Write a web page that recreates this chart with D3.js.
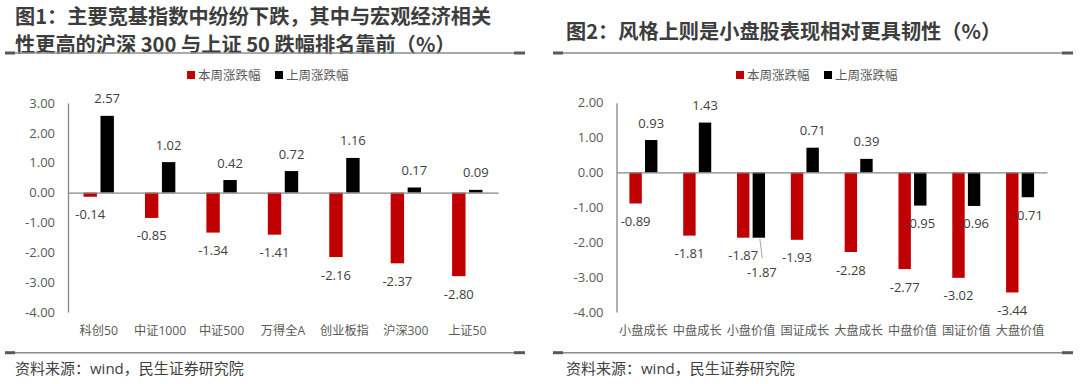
<!DOCTYPE html>
<html>
<head>
<meta charset="utf-8">
<script src="https://cdn.jsdelivr.net/npm/d3@7/dist/d3.min.js"></script>
<style>
  html, body { margin: 0; padding: 0; background: #ffffff; }
  svg { display: block; font-family: "Open Sans", "Noto Sans CJK SC", sans-serif; }
</style>
</head>
<body>
<svg id="chart" width="1080" height="384"></svg>
<script>
// ---------- data ----------
const seriesNames = ["本周涨跌幅", "上周涨跌幅"];
const seriesColors = ["#C00000", "#000000"];

const p1Title = ["图1：主要宽基指数中纷纷下跌，其中与宏观经济相关", "性更高的沪深 300 与上证 50 跌幅排名靠前（%）"];
const p1Categories = ["科创50", "中证1000", "中证500", "万得全A", "创业板指", "沪深300", "上证50"];
const p1ThisWeek = [-0.14, -0.85, -1.34, -1.41, -2.16, -2.37, -2.80];
const p1LastWeek = [2.57, 1.02, 0.42, 0.72, 1.16, 0.17, 0.09];
const p1Ticks = [3, 2, 1, 0, -1, -2, -3, -4];

const p2Title = ["图2：风格上则是小盘股表现相对更具韧性（%）"];
const p2Categories = ["小盘成长", "中盘成长", "小盘价值", "国证成长", "大盘成长", "中盘价值", "国证价值", "大盘价值"];
const p2ThisWeek = [-0.89, -1.81, -1.87, -1.93, -2.28, -2.77, -3.02, -3.44];
const p2LastWeek = [0.93, 1.43, -1.87, 0.71, 0.39, -0.95, -0.96, -0.71];
const p2Ticks = [2, 1, 0, -1, -2, -3, -4];

const sourceText = "资料来源：wind，民生证券研究院";

// ---------- drawing ----------
const svg = d3.select("#chart");

function divider(g, x1, x2, y) {
  g.append("line").attr("x1", x1).attr("x2", x2).attr("y1", y).attr("y2", y)
    .attr("stroke", "#8c8c8c").attr("stroke-width", 1.5);
  g.append("rect").attr("x", x1).attr("y", y - 1.5).attr("width", 10).attr("height", 3).attr("fill", "#595959");
  g.append("rect").attr("x", x2 - 11).attr("y", y - 1.5).attr("width", 11).attr("height", 3).attr("fill", "#595959");
}

function drawPanel(cfg) {
  const g = svg.append("g");

  // title
  cfg.title.forEach((t, i) => {
    g.append("text").attr("x", cfg.titleX).attr("y", cfg.titleY[i])
      .attr("dominant-baseline", "central")
      .attr("font-family", "'Noto Sans CJK SC', sans-serif")
      .attr("font-weight", "bold").attr("font-size", 20.2).attr("fill", "#3d3d3d")
      .text(t);
  });
  divider(g, cfg.lineX1, cfg.lineX2, 53);
  divider(g, cfg.lineX1, cfg.lineX2, 352.7);

  // source
  g.append("text").attr("x", cfg.titleX).attr("y", 368)
    .attr("dominant-baseline", "central")
    .attr("font-size", 15).attr("fill", "#404040").text(sourceText);

  // legend
  seriesNames.forEach((name, i) => {
    g.append("rect").attr("x", cfg.legendX[i]).attr("y", 71).attr("width", 8).attr("height", 8)
      .attr("fill", seriesColors[i]);
    g.append("text").attr("x", cfg.legendX[i] + 11).attr("y", 75)
      .attr("dominant-baseline", "central")
      .attr("font-size", 12.5).attr("fill", "#595959").text(name);
  });

  // scales
  const x0 = d3.scaleBand().domain(cfg.categories).range([cfg.plotX1, cfg.plotX2]).padding(0);
  const x1 = d3.scaleBand().domain([0, 1]).range([0, x0.bandwidth()])
    .paddingInner(cfg.innerPad).paddingOuter(cfg.outerPad);
  const y = d3.scaleLinear().domain([d3.min(cfg.ticks), d3.max(cfg.ticks)]).range([312, cfg.plotTop]);

  // y axis
  const yAxis = d3.axisLeft(y).tickValues(cfg.ticks).tickSize(0).tickSizeOuter(0).tickPadding(13)
    .tickFormat(d => d.toFixed(2));
  const ya = g.append("g").attr("transform", `translate(${cfg.plotX1},0)`).call(yAxis);
  ya.select(".domain").attr("stroke", "#868686").attr("stroke-width", 1.3);
  ya.selectAll("text").attr("font-size", 13).attr("fill", "#595959")
    .attr("font-family", "'Open Sans', 'Noto Sans CJK SC', sans-serif");

  // bars
  const series = [cfg.thisWeek, cfg.lastWeek];
  series.forEach((vals, s) => {
    g.append("g").selectAll("rect").data(vals).join("rect")
      .attr("x", (d, i) => x0(cfg.categories[i]) + x1(s))
      .attr("width", x1.bandwidth())
      .attr("y", d => y(Math.max(0, d)))
      .attr("height", d => Math.abs(y(d) - y(0)))
      .attr("fill", seriesColors[s]);
  });

  // x axis line at zero
  const xAxis = d3.axisBottom(x0).tickSize(0).tickSizeOuter(0).tickFormat("");
  const xa = g.append("g").attr("transform", `translate(0,${y(0)})`).call(xAxis);
  xa.select(".domain").attr("stroke", "#868686").attr("stroke-width", 1.3);

  // category labels
  const xl = d3.axisBottom(x0).tickSize(0).tickSizeOuter(0).tickPadding(14);
  const xla = g.append("g").attr("transform", `translate(0,312)`).call(xl);
  xla.select(".domain").remove();
  xla.selectAll("text").attr("font-size", 12.2).attr("fill", "#595959")
    .attr("font-family", "'Open Sans', 'Noto Sans CJK SC', sans-serif");

  // data labels
  series.forEach((vals, s) => {
    vals.forEach((d, i) => {
      const cx = x0(cfg.categories[i]) + x1(s) + x1.bandwidth() / 2;
      let cy = d >= 0 ? y(d) - 17.5 : y(d) + 17.5;
      let tx = cx;
      // avoid collision with the other series' label in the same category
      if (s === 1) {
        const other = series[0][i];
        const ocy = other >= 0 ? y(other) - 17.5 : y(other) + 17.5;
        if (Math.abs(ocy - cy) < 12 && Math.abs(other - d) < 0.05) {
          const nyc = cy + 17;
          tx = cx + 3;
          g.append("line").attr("x1", cx + 1).attr("y1", y(d) + 1).attr("x2", cx + 3.5).attr("y2", nyc - 14)
            .attr("stroke", "#a6a6a6").attr("stroke-width", 1);
          cy = nyc;
        }
      }
      g.append("text").attr("x", tx).attr("y", cy)
        .attr("text-anchor", "middle").attr("dominant-baseline", "central")
        .attr("font-size", 13).attr("fill", "#404040")
        .text(d.toFixed(2));
    });
  });
}

drawPanel({
  title: p1Title, titleX: 15, titleY: [15.5, 43.5],
  lineX1: 5, lineX2: 525,
  legendX: [187, 275],
  categories: p1Categories, thisWeek: p1ThisWeek, lastWeek: p1LastWeek, ticks: p1Ticks,
  plotX1: 68, plotX2: 498, plotTop: 103,
  innerPad: 0.21, outerPad: 0.915
});

drawPanel({
  title: p2Title, titleX: 566, titleY: [30],
  lineX1: 553, lineX2: 1073,
  legendX: [736, 824],
  categories: p2Categories, thisWeek: p2ThisWeek, lastWeek: p2LastWeek, ticks: p2Ticks,
  plotX1: 616.5, plotX2: 1047, plotTop: 102.7,
  innerPad: 0.205, outerPad: 0.827
});
</script>
</body>
</html>
